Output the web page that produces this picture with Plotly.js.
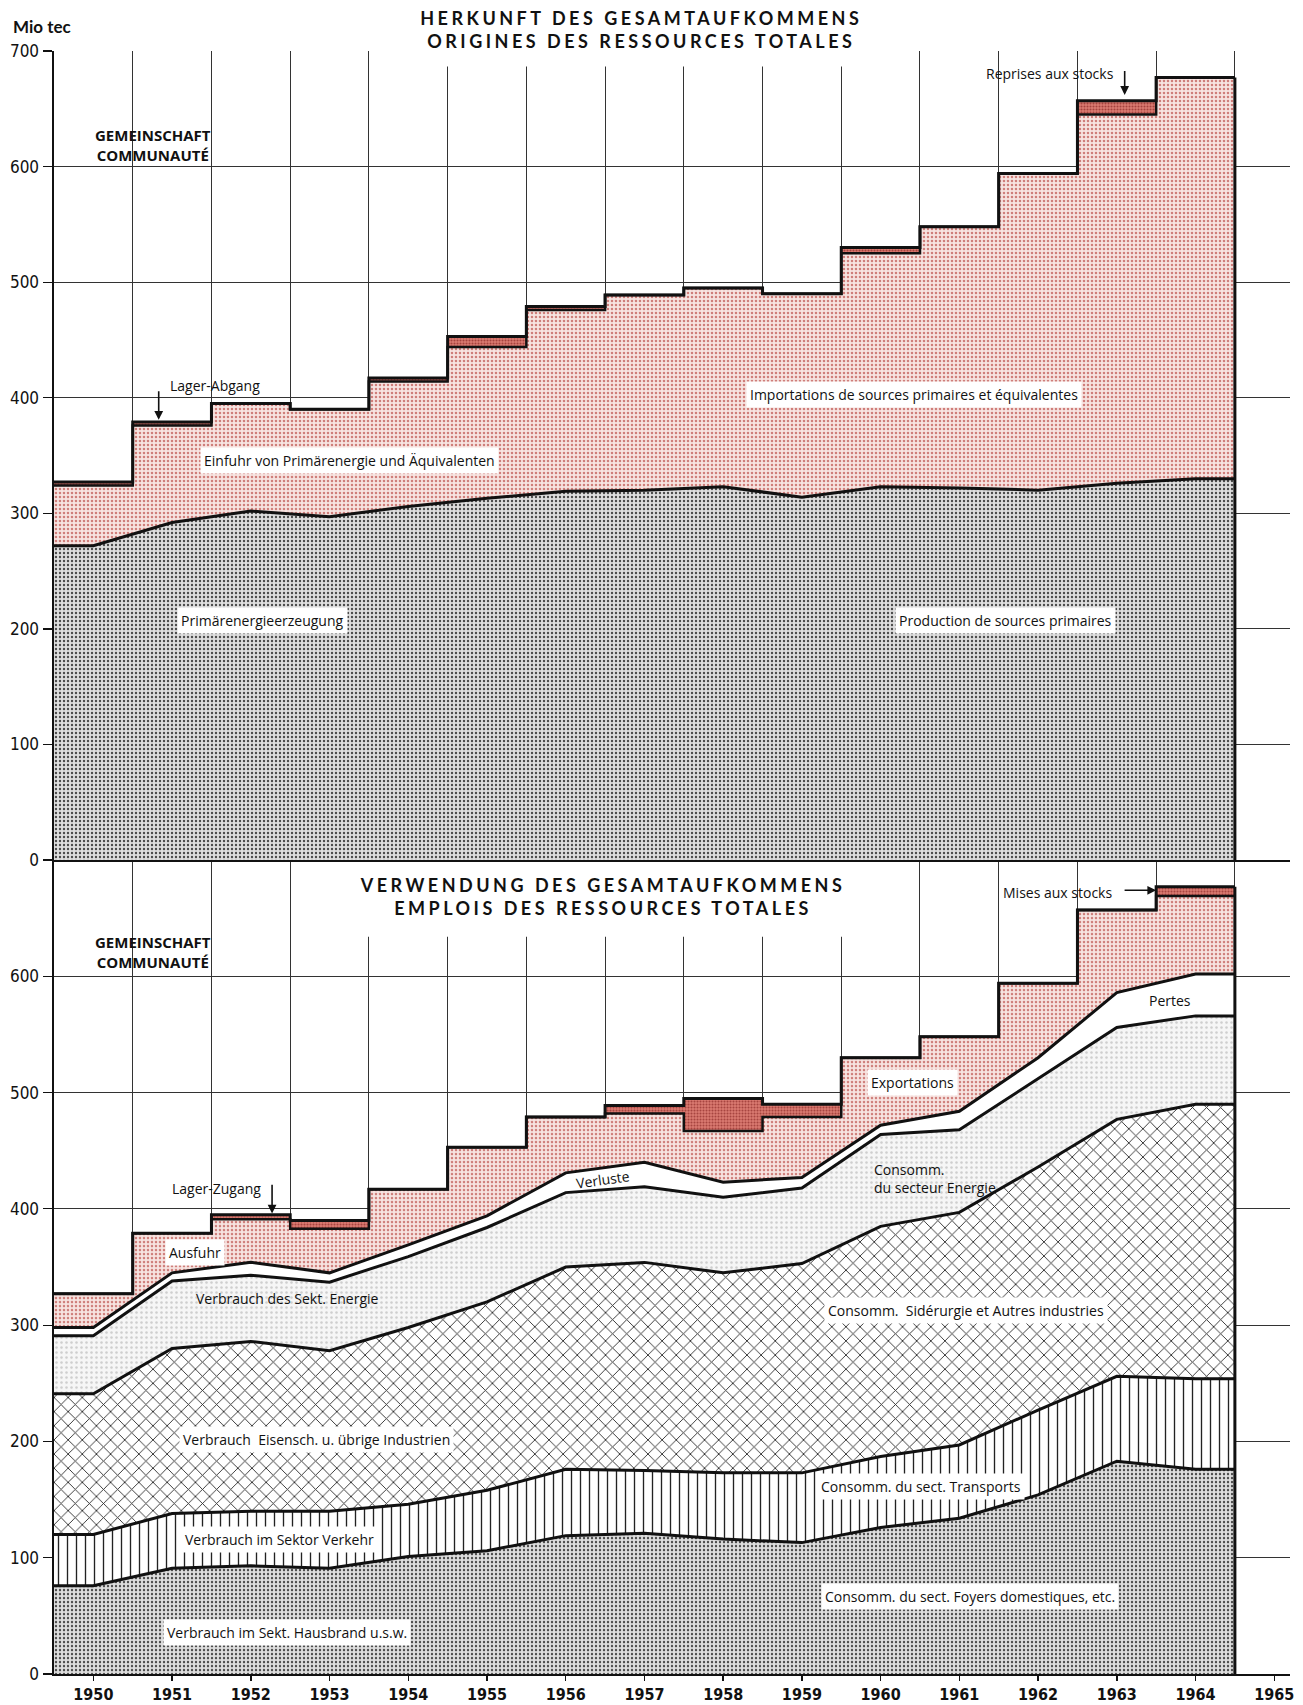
<!DOCTYPE html>
<html>
<head>
<meta charset="utf-8">
<script src="https://cdn.plot.ly/plotly-3.0.1.min.js"></script>
<style>
html,body{margin:0;padding:0;background:#ffffff;}
#chart{width:1303px;height:1705px;}
</style>
</head>
<body>
<div id="chart"></div>
<script>
// ---------- data (Mio tec) ----------
const years = [1950,1951,1952,1953,1954,1955,1956,1957,1958,1959,1960,1961,1962,1963,1964];
const xTickValues = [1950,1951,1952,1953,1954,1955,1956,1957,1958,1959,1960,1961,1962,1963,1964,1965];
const xTickLabels = ['1950','1951','1952','1953','1954','1955','1956','1957','1958','1959','1960','1961','1962','1963','1964','1965'];
const yTickValuesTop = [0,100,200,300,400,500,600,700];
const yTickValuesBottom = [0,100,200,300,400,500,600];

// Herkunft / Origines
const production      = [272,292,302,297,306,313,319,320,323,314,323,322,320,326,330];
const imports         = [52,84,93,93,108,131,157,169,172,176,202,226,274,319,347];
const stockWithdrawal = [3,3,0,0,3,9,3,0,0,0,5,0,0,12,0];

// Verwendung / Emplois
const domestic      = [76,91,93,91,101,106,119,121,116,113,126,134,154,183,176];
const transport     = [44,47,47,49,45,52,57,54,57,60,61,63,73,73,78];
const industry      = [121,142,146,138,152,162,174,179,172,180,198,200,209,221,236];
const energySector  = [50,58,57,59,61,64,64,65,65,65,79,71,76,79,76];
const losses        = [7,7,11,8,10,10,17,21,13,9,8,16,18,30,36];
const exportsOut    = [29,34,37,38,48,59,48,42,44,52,58,64,64,71,67];
const stockAddition = [0,0,4,7,0,0,0,7,28,11,0,0,0,0,8];

// ---------- helpers ----------
function stack(list){
  const out=[]; let run=list[0].map(()=>0);
  for(const s of list){ run=run.map((v,i)=>v+s[i]); out.push(run); }
  return out;
}
const n = years.length;
const edgeX = [years[0]-0.5, ...years, years[n-1]+0.5];
const ext = v => [v[0], ...v, v[v.length-1]];

const greyDots  = {shape:'.', bgcolor:'#dedede', fgcolor:'#4a4a4a', size:4, solidity:0.27};
const pinkDots  = {shape:'.', bgcolor:'#f7e4e1', fgcolor:'#cf7f7b', size:4, solidity:0.32};
const redDots   = {shape:'.', bgcolor:'#dc7b72', fgcolor:'#a5433e', size:3, solidity:0.4};
const lightDots = {shape:'.', bgcolor:'#f6f6f6', fgcolor:'#cdcdcd', size:5, solidity:0.2};
const vLines    = {shape:'|', bgcolor:'#ffffff', fgcolor:'#222222', size:9, solidity:0.15};
const crossHatch= {shape:'x', bgcolor:'#ffffff', fgcolor:'#262626', size:10, solidity:0.17};

function layer(vals, pattern, xa, ya, shape, first, lw){
  const t = {
    type:'scatter', mode:'lines', x: edgeX, y: ext(vals), xaxis: xa, yaxis: ya,
    line:{color:'#111111', width: lw||3, shape: shape},
    fill: first ? 'tozeroy' : 'tonexty',
    hoverinfo:'skip', showlegend:false
  };
  if(pattern){ t.fillcolor = pattern.bgcolor; t.fillpattern = pattern; }
  else { t.fillcolor = '#ffffff'; }
  return t;
}

const topStack = stack([production, imports, stockWithdrawal]);
const botStack = stack([domestic, transport, industry, energySector, losses, exportsOut, stockAddition]);

const traces = [
  layer(topStack[0], greyDots, 'x2','y2','linear', true, 3),
  layer(topStack[1], pinkDots, 'x2','y2','hvh', false, 2.5),
  layer(topStack[2], redDots,  'x2','y2','hvh', false, 3),

  layer(botStack[0], greyDots,  'x','y','linear', true, 3),
  layer(botStack[1], vLines,    'x','y','linear', false, 3),
  layer(botStack[2], crossHatch,'x','y','linear', false, 3),
  layer(botStack[3], lightDots, 'x','y','linear', false, 3),
  layer(botStack[4], null,      'x','y','linear', false, 3),
  layer(botStack[5], pinkDots,  'x','y','hvh', false, 2.5),
  layer(botStack[6], redDots,   'x','y','hvh', false, 3)
];

const tickFont = {family:'Liberation Sans Narrow, DejaVu Sans Condensed, Arial Narrow, sans-serif', size:17, color:'#111'};
const yearFont = {family:'Liberation Sans Narrow, DejaVu Sans Condensed, Arial Narrow, sans-serif', size:16, color:'#111', weight:'bold'};
const lblFont = {family:'Open Sans, Lato, sans-serif', size:14, color:'#111'};
const boldLbl = {family:'Open Sans, Lato, sans-serif', size:15, color:'#111', weight:'bold'};
const titleFont = {family:'Lato, Open Sans, sans-serif', size:18, color:'#111', weight:'bold'};

function lab(text, x, y, xa, ya, extra){
  return Object.assign({text:text, x:x, y:y, xref:xa, yref:ya, showarrow:false,
    font:lblFont, bgcolor:'#ffffff', borderpad:3}, extra||{});
}
function arrow(x, y, ax, ay, xa, ya){
  return {text:'', x:x, y:y, ax:ax, ay:ay, xref:xa, yref:ya, axref:xa, ayref:ya,
    showarrow:true, arrowhead:2, arrowsize:1.1, arrowwidth:1.6, arrowcolor:'#111', standoff:0, startstandoff:0};
}

const annotations = [
  // general
  {text:'Mio tec', xref:'paper', yref:'paper', x:-0.035, y:1.0148, xanchor:'left', yanchor:'middle',
   showarrow:false, font:{family:'Lato, Open Sans, sans-serif', size:17, color:'#111', weight:'bold'}},
  // top panel
  {text:'HERKUNFT DES GESAMTAUFKOMMENS<br>ORIGINES DES RESSOURCES TOTALES', xref:'x2', yref:'paper',
   x:1956.96, y:1.0135, yanchor:'middle', showarrow:false, font:titleFont, align:'center'},
  lab('GEMEINSCHAFT<br>COMMUNAUTÉ', 1950.76, 619, 'x2','y2', {font:boldLbl, bgcolor:'rgba(0,0,0,0)', align:'center'}),
  lab('Lager-Abgang', 1951.54, 410.7, 'x2','y2', {bgcolor:'rgba(0,0,0,0)'}),
  arrow(1950.83, 381, 1950.83, 407, 'x2','y2'),
  lab('Reprises aux stocks', 1962.15, 680.5, 'x2','y2', {bgcolor:'rgba(0,0,0,0)'}),
  arrow(1963.1, 662, 1963.1, 684, 'x2','y2'),
  lab('Importations de sources primaires et équivalentes', 1960.42, 403, 'x2','y2'),
  lab('Einfuhr von Primärenergie und Äquivalenten', 1953.25, 346, 'x2','y2'),
  lab('Primärenergieerzeugung', 1952.15, 207.7, 'x2','y2'),
  lab('Production de sources primaires', 1961.59, 207.7, 'x2','y2'),
  // bottom panel
  {text:'VERWENDUNG DES GESAMTAUFKOMMENS<br>EMPLOIS DES RESSOURCES TOTALES', xref:'x', yref:'y',
   x:1956.47, y:668.5, showarrow:false, font:titleFont, align:'center'},
  lab('GEMEINSCHAFT<br>COMMUNAUTÉ', 1950.76, 621, 'x','y', {font:boldLbl, bgcolor:'rgba(0,0,0,0)', align:'center'}),
  lab('Mises aux stocks', 1962.99, 672.3, 'x','y', {xanchor:'right', bgcolor:'rgba(0,0,0,0)'}),
  arrow(1963.5, 674, 1963.08, 674, 'x','y'),
  lab('Pertes', 1963.67, 579.6, 'x','y', {bgcolor:'rgba(0,0,0,0)'}),
  lab('Exportations', 1960.41, 508.4, 'x','y'),
  lab('Verluste', 1956.47, 425, 'x','y', {bgcolor:'rgba(0,0,0,0)', textangle:-8}),
  lab('Consomm.<br>du secteur Energie', 1959.86, 426.5, 'x','y', {xanchor:'left', align:'left', bgcolor:'rgba(0,0,0,0)'}),
  lab('Lager-Zugang', 1951.57, 417.6, 'x','y', {bgcolor:'rgba(0,0,0,0)'}),
  arrow(1952.27, 396, 1952.27, 422, 'x','y'),
  lab('Ausfuhr', 1951.29, 362.4, 'x','y'),
  lab('Verbrauch des Sekt. Energie', 1952.46, 323, 'x','y', {bgcolor:'rgba(0,0,0,0)'}),
  lab('Consomm.  Sidérurgie et Autres industries', 1961.08, 312.7, 'x','y'),
  lab('Verbrauch  Eisensch. u. übrige Industrien', 1952.84, 201.3, 'x','y'),
  lab('Consomm. du sect. Transports', 1960.51, 161, 'x','y'),
  lab('Verbrauch im Sektor Verkehr', 1952.37, 116, 'x','y'),
  lab('Consomm. du sect. Foyers domestiques, etc.', 1961.13, 66.5, 'x','y'),
  lab('Verbrauch im Sekt. Hausbrand u.s.w.', 1952.46, 35.6, 'x','y')
];

const lastX = edgeX[edgeX.length-1];
const shapes = [
  // white boxes behind the titles
  {type:'rect', xref:'x2', yref:'paper', x0:1954.04, x1:1960.05, y0:0.9905, y1:1.04,
   fillcolor:'#ffffff', line:{width:0}, layer:'above'},
  {type:'rect', xref:'x', yref:'paper', x0:1953.0, x1:1960.02, y0:0.4542, y1:0.5003,
   fillcolor:'#ffffff', line:{width:0}, layer:'above'},
  // right closing edges of the areas
  {type:'line', xref:'x2', yref:'y2', x0:lastX, x1:lastX, y0:0, y1:topStack[2][n-1], line:{color:'#111', width:3}},
  {type:'line', xref:'x', yref:'y', x0:lastX, x1:lastX, y0:0, y1:botStack[6][n-1], line:{color:'#111', width:3}}
];

const minorGrid = {tick0:1949.5, dtick:1, showgrid:true, gridcolor:'#333333', gridwidth:1, ticks:''};
const SPLIT = 0.5015;

const layout = {
  width:1303, height:1705,
  paper_bgcolor:'#ffffff', plot_bgcolor:'#ffffff',
  margin:{l:54, r:13, t:51, b:31},
  showlegend:false,
  xaxis:{domain:[0,1], anchor:'y', range:[1949.5,1965.2], tickmode:'array', tickvals:xTickValues, ticktext:xTickLabels,
    ticks:'outside', ticklen:5, tickwidth:1.5, tickcolor:'#111', showline:true, linecolor:'#111', linewidth:2,
    showgrid:false, zeroline:false, tickfont:yearFont, minor:minorGrid, fixedrange:true},
  xaxis2:{domain:[0,1], anchor:'y2', matches:'x', range:[1949.5,1965.2], showticklabels:false, ticks:'',
    showline:true, linecolor:'#111', linewidth:2, showgrid:false, zeroline:false, minor:minorGrid},
  yaxis:{domain:[0,SPLIT], anchor:'x', range:[0,700], tickmode:'array', tickvals:yTickValuesBottom,
    ticktext:yTickValuesBottom.map(String), ticks:'outside', ticklen:9, tickwidth:1.2, tickcolor:'#111',
    showline:true, linecolor:'#111', linewidth:2.5, showgrid:true, gridcolor:'#333333', gridwidth:1,
    zeroline:false, tickfont:tickFont},
  yaxis2:{domain:[SPLIT,1], anchor:'x2', range:[0,700], tickmode:'array', tickvals:yTickValuesTop,
    ticktext:yTickValuesTop.map(String), ticks:'outside', ticklen:9, tickwidth:1.2, tickcolor:'#111',
    showline:true, linecolor:'#111', linewidth:2.5, showgrid:true, gridcolor:'#333333', gridwidth:1,
    zeroline:false, tickfont:tickFont},
  annotations: annotations,
  shapes: shapes
};

Plotly.newPlot('chart', traces, layout, {displayModeBar:false, staticPlot:true}).then(function(){
  document.querySelectorAll('.annotation-text').forEach(function(t){
    const s = t.textContent || '';
    if (s.indexOf('HERKUNFT') === 0 || s.indexOf('VERWENDUNG') === 0) {
      t.style.letterSpacing = '3.5px';
    }
  });
});
</script>
</body>
</html>
